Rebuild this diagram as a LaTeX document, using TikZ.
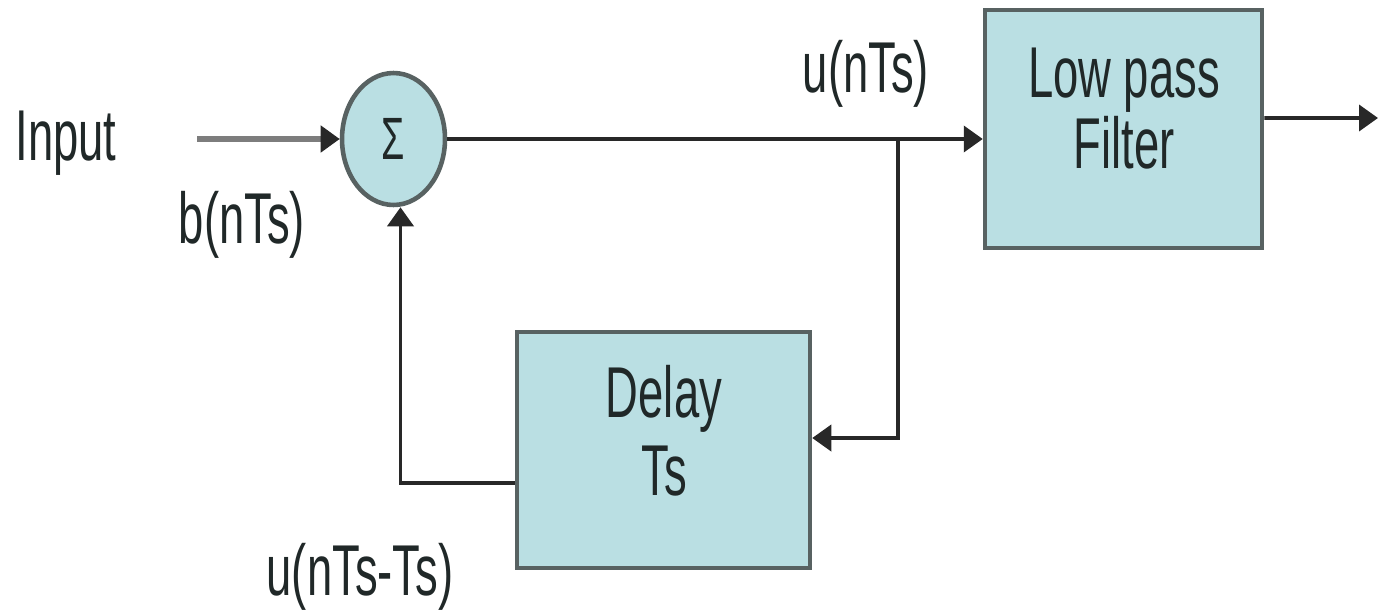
\documentclass[tikz,border=0pt]{standalone}
\usepackage{fontspec}
\newfontfamily\nf[FakeStretch=0.63]{Liberation Sans}
\usetikzlibrary{shapes.geometric,arrows.meta}
\definecolor{boxfill}{RGB}{186,223,227}
\definecolor{boxline}{RGB}{88,98,98}
\definecolor{wire}{RGB}{40,40,40}
\definecolor{inwire}{RGB}{125,125,125}
\definecolor{txt}{RGB}{32,40,40}
\tikzset{
  blk/.style={draw=boxline, line width=2.6pt, fill=boxfill, inner sep=0pt},
  lbl/.style={font=\nf\fontsize{41}{46}\selectfont, text=txt, anchor=base, inner sep=0pt},
  wr/.style={draw=wire, line width=2.2pt},
  arr/.style={wr, -{Triangle[length=0.38cm,width=0.52cm,color=wire]}},
}
\begin{document}
\begin{tikzpicture}[x=0.02cm,y=-0.02cm]
\useasboundingbox (0,0) rectangle (1379,609);
\node[blk, ellipse, minimum width=2.06cm, minimum height=2.64cm,
      font=\nf\fontsize{34}{40}\selectfont, text=txt] (sum) at (393.5,139) {Σ};
\node[blk, minimum width=5.54cm, minimum height=4.76cm] (lpf) at (1123.5,129) {};
\node[blk, minimum width=5.86cm, minimum height=4.72cm] (delay) at (663.5,450) {};
\node[lbl] (lpf1) at (1124,97) {Low pass};
\node[lbl] (lpf2) at (1124,168) {Filter};
\node[lbl] (del1) at (664,417) {Delay};
\node[lbl] (del2) at (664,495) {Ts};
\node[lbl] (tin) at (66,160) {Input};
\node[lbl] (tb) at (242,243) {b(nTs)};
\node[lbl] (tu) at (866,92) {u(nTs)};
\node[lbl] (tud) at (360,595) {u(nTs-Ts)};
\coordinate (src) at (197,139);
\coordinate (br) at (898,139);
\coordinate (out) at (1378,118);
\draw[arr, draw=inwire, line width=3.6pt] (src) -- (sum.west);
\draw[arr] (sum.east) -- (sum.east -| lpf.west);
\draw[arr] (br) |- ([yshift=0.24cm]delay.east);
\draw[arr] ([yshift=0.22cm]lpf.east) -- (out);
\draw[arr] ([yshift=-0.66cm]delay.west) -| ([xshift=0.14cm]sum.south);
\end{tikzpicture}
\end{document}
